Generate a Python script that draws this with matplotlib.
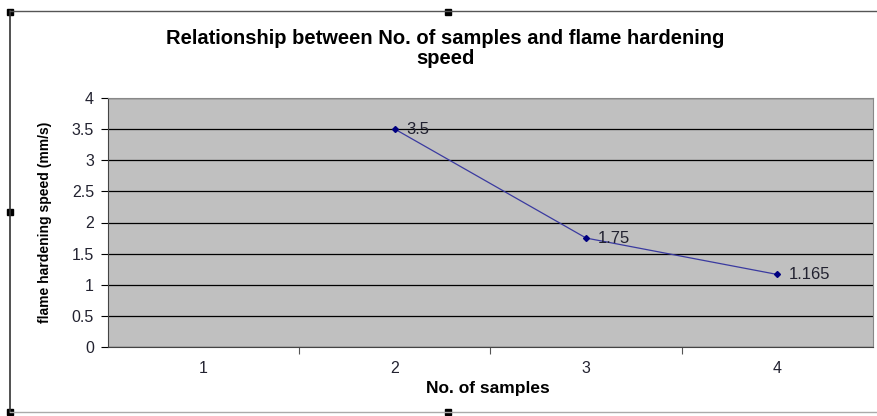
import numpy as np
import matplotlib
matplotlib.use("Agg")
import matplotlib.pyplot as plt
from matplotlib.patches import Rectangle

plt.rcParams['font.family'] = ['Liberation Sans', 'DejaVu Sans']

samples = [1, 2, 3, 4]
speed = [np.nan, 3.5, 1.75, 1.165]
labels = ["", "3.5", "1.75", "1.165"]
yticks = [0, 0.5, 1, 1.5, 2, 2.5, 3, 3.5, 4]

W, H = 878, 416
fig = plt.figure(figsize=(W / 100, H / 100), dpi=100)

# worksheet-ish frame and selection handles
fig.add_artist(plt.Line2D([10 / W, 10 / W], [1 - 11 / H, 1 - 412 / H], color='#333333', lw=1.2))
fig.add_artist(plt.Line2D([10 / W, 1], [1 - 11 / H, 1 - 11 / H], color='#555555', lw=1.0))
fig.add_artist(plt.Line2D([10 / W, 1], [1 - 412 / H, 1 - 412 / H], color='#aaaaaa', lw=1.0))
for hx, hy in [(10, 12), (448, 12), (10, 212), (10, 412), (448, 412)]:
    fig.add_artist(Rectangle(((hx - 3) / W, 1 - (hy + 3) / H), 6 / W, 6 / H,
                             transform=fig.transFigure, color='black'))

txt = '#222230'
ax = fig.add_axes([108 / W, 1 - 347 / H, 765 / W, 249 / H])
ax.set_facecolor('#c0c0c0')
ax.plot(samples, speed, color='#3a3aa0', lw=0.9, marker='D', ms=3,
        mfc='#000080', mec='#000080')
for x, y, t in zip(samples, speed, labels):
    if t:
        ax.text(x + 0.06, y, t, fontsize=12, color=txt, va='center', ha='left')

ax.set_xlim(0.5, 4.5)
ax.set_ylim(0, 4)
ax.set_yticks(yticks)
ax.set_yticklabels([f"{v:g}" for v in yticks], fontsize=11.5, color=txt)
ax.yaxis.grid(True, color='black', lw=0.9)
ax.set_axisbelow(True)

ax.set_xticks([1.5, 2.5, 3.5])
ax.set_xticklabels([])
ax.set_xticks(samples, minor=True)
ax.set_xticklabels([str(s) for s in samples], minor=True, fontsize=11.5, color=txt)
ax.tick_params(axis='x', which='minor', length=0, pad=10)
ax.tick_params(axis='x', which='major', length=5, color='#555555')
ax.tick_params(axis='y', length=5, pad=5)

for side in ['top', 'right']:
    ax.spines[side].set_color('#888888')
ax.spines['left'].set_color('#444444')
ax.spines['bottom'].set_color('#444444')

fig.text(488 / W, 1 - 388 / H, "No. of samples", ha='center', va='center',
         fontsize=12.5, fontweight='bold', color='black')
fig.text(45 / W, 1 - 222 / H, "flame hardening speed (mm/s)", ha='center', va='center',
         rotation=90, fontsize=10, fontweight='bold', color='black')

fig.text(445 / W, 1 - 39 / H, "Relationship between No. of samples and flame hardening",
         ha='center', va='center', fontsize=14.5, fontweight='bold')
fig.text(445 / W, 1 - 59 / H, "speed",
         ha='center', va='center', fontsize=14.5, fontweight='bold')

fig.savefig("out.png", dpi=100)
